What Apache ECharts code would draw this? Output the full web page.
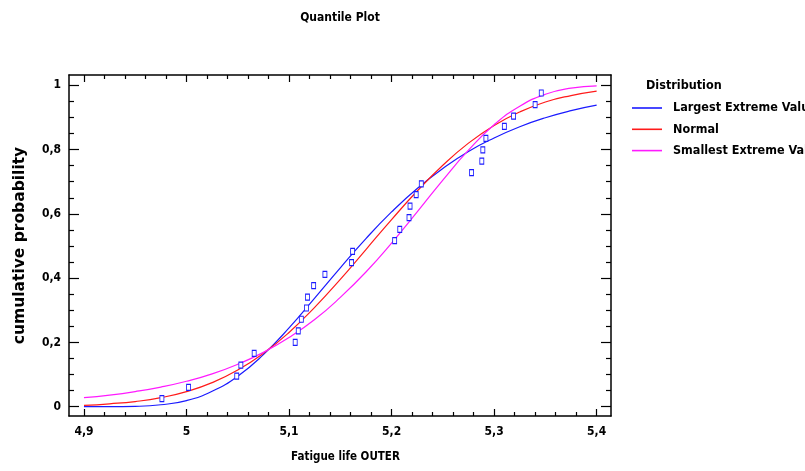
<!DOCTYPE html>
<html>
<head>
<meta charset="utf-8">
<script src="https://cdn.jsdelivr.net/npm/echarts@6/dist/echarts.min.js"></script>
<style>
html,body{margin:0;padding:0;background:#fff;}
#chart{width:805px;height:471px;}
</style>
</head>
<body>
<div id="chart"></div>
<script>
// ---- Data ----
var xTickLabels = [4.9, 5.0, 5.1, 5.2, 5.3, 5.4];
var yTickLabels = [0, 0.2, 0.4, 0.6, 0.8, 1];
var xMinorTicks = [4.92,4.94,4.96,4.98,5.02,5.04,5.06,5.08,5.12,5.14,5.16,5.18,5.22,5.24,5.26,5.28,5.32,5.34,5.36,5.38];
var yMinorTicks = [0.05,0.1,0.15,0.25,0.3,0.35,0.45,0.5,0.55,0.65,0.7,0.75,0.85,0.9,0.95];

var curveX = [4.900,4.925,4.950,4.975,5.000,5.025,5.050,5.075,5.100,5.125,5.150,5.175,5.200,5.225,5.250,5.275,5.300,5.325,5.350,5.375,5.400];
var largestExtreme = [0.000,0.000,0.001,0.006,0.019,0.048,0.095,0.162,0.245,0.338,0.432,0.523,0.606,0.679,0.741,0.794,0.836,0.871,0.899,0.921,0.938];
var normalCurve    = [0.004,0.009,0.016,0.028,0.047,0.075,0.114,0.166,0.231,0.309,0.396,0.489,0.582,0.671,0.751,0.820,0.875,0.917,0.948,0.968,0.982];
var smallestExtreme= [0.028,0.036,0.047,0.061,0.079,0.102,0.132,0.169,0.215,0.271,0.340,0.419,0.509,0.606,0.705,0.798,0.877,0.935,0.972,0.991,0.998];

var pointX = [4.976,5.002,5.049,5.053,5.066,5.106,5.109,5.112,5.117,5.118,5.124,5.135,5.161,5.162,5.203,5.208,5.217,5.218,5.224,5.229,5.278,5.288,5.289,5.292,5.310,5.319,5.340,5.346];
var pointY = [0.025,0.060,0.095,0.129,0.166,0.200,0.236,0.272,0.307,0.341,0.377,0.412,0.448,0.483,0.517,0.552,0.588,0.624,0.660,0.693,0.728,0.764,0.799,0.835,0.872,0.904,0.940,0.976];

var seriesNames = ['Largest Extreme Value', 'Normal', 'Smallest Extreme Value'];
var seriesColors = ['#1a1aff', '#ff1a1a', '#ff1aff'];

// ---- Build ----
var FONT_N = "'DejaVu Sans Condensed', 'Liberation Sans', sans-serif";
var FONT_W = "'DejaVu Sans', 'Liberation Sans', sans-serif";
function pairs(xs, ys){ return xs.map(function(x,i){ return [x, ys[i]]; }); }
function fmt(v){ return String(Math.round(v*100)/100).replace('.', ','); }

var XMIN = 4.8854, XMAX = 5.414, YMIN = -0.029, YMAX = 1.032;
var lineStyleAxis = {color:'#000', width:1.5};

function xAx(pos, ticks, len, showLine, showLabel){
  return {
    type:'value', position:pos, min:XMIN, max:XMAX,
    axisLine:{show:showLine, onZero:false, lineStyle:lineStyleAxis},
    axisTick:{show:true, inside:true, length:len, customValues:ticks, lineStyle:{color:'#000', width:1.2}},
    axisLabel:{show:showLabel, customValues:ticks, formatter:fmt, margin:10,
      fontFamily:FONT_N, fontWeight:'bold', fontSize:12, color:'#000'},
    splitLine:{show:false},
    name: (pos==='bottom' && showLabel) ? 'Fatigue life OUTER' : '',
    nameLocation:'middle', nameGap:35,
    nameTextStyle:{fontFamily:FONT_N, fontWeight:'bold', fontSize:11.5, color:'#000', padding:[0,0,0,11]}
  };
}
function yAx(pos, ticks, len, showLine, showLabel){
  return {
    type:'value', position:pos, min:YMIN, max:YMAX,
    axisLine:{show:showLine, onZero:false, lineStyle:lineStyleAxis},
    axisTick:{show:true, inside:true, length:len, customValues:ticks, lineStyle:{color:'#000', width:1.2}},
    axisLabel:{show:showLabel, customValues:ticks, formatter:fmt, margin:8,
      fontFamily:FONT_N, fontWeight:'bold', fontSize:12, color:'#000'},
    splitLine:{show:false},
    name: (pos==='left' && showLabel) ? 'cumulative probability' : '',
    nameLocation:'middle', nameGap:41, nameRotate:90,
    nameTextStyle:{fontFamily:FONT_W, fontWeight:'bold', fontSize:15.5, color:'#000'}
  };
}

var series = [
  {name:seriesNames[0], data:pairs(curveX, largestExtreme)},
  {name:seriesNames[1], data:pairs(curveX, normalCurve)},
  {name:seriesNames[2], data:pairs(curveX, smallestExtreme)}
].map(function(s, i){
  return {
    name:s.name, type:'line', data:s.data, smooth:true, symbol:'none',
    xAxisIndex:0, yAxisIndex:0,
    lineStyle:{color:seriesColors[i], width:1.2},
    itemStyle:{color:seriesColors[i]},
    z:2, silent:true, animation:false
  };
});
series.push({
  name:'points', type:'scatter', data:pairs(pointX, pointY),
  xAxisIndex:0, yAxisIndex:0,
  symbol:'rect', symbolSize:[4,6],
  itemStyle:{color:'#ffffff', borderColor:'#1a1aff', borderWidth:1, opacity:1},
  z:3, silent:true, animation:false
});

var chart = echarts.init(document.getElementById('chart'), null, {renderer:'canvas'});
chart.setOption({
  animation:false,
  backgroundColor:'#fff',
  title:[
    {text:'Quantile Plot', left:340, textAlign:'center', top:12, padding:0,
      textStyle:{fontFamily:FONT_N, fontWeight:'bold', fontSize:12, color:'#000'}},
    {text:'Distribution', left:646, top:79, padding:0,
      textStyle:{fontFamily:FONT_N, fontWeight:'bold', fontSize:12.5, color:'#000'}}
  ],
  legend:{
    data:seriesNames, orient:'vertical', left:632, top:101.5, padding:0,
    icon:'rect', itemWidth:30, itemHeight:1.6, itemGap:8.3,
    formatter:function(n){ return '{a|' + n + '}'; },
    textStyle:{fontFamily:FONT_N, fontWeight:'bold', fontSize:12.5, color:'#000',
      rich:{a:{fontFamily:FONT_N, fontWeight:'bold', fontSize:12.5, color:'#000', padding:[0,0,0,6]}}},
    selectedMode:false
  },
  grid:{left:69, right:194, top:75, bottom:55, containLabel:false},
  xAxis:[
    xAx('bottom', xTickLabels, 7, true, true),
    xAx('bottom', xMinorTicks, 4, false, false),
    xAx('top', xTickLabels, 7, true, false),
    xAx('top', xMinorTicks, 4, false, false)
  ],
  yAxis:[
    yAx('left', yTickLabels, 10, true, true),
    yAx('left', yMinorTicks, 5, false, false),
    yAx('right', yTickLabels, 10, true, false),
    yAx('right', yMinorTicks, 5, false, false)
  ],
  series:series
});
</script>
</body>
</html>
